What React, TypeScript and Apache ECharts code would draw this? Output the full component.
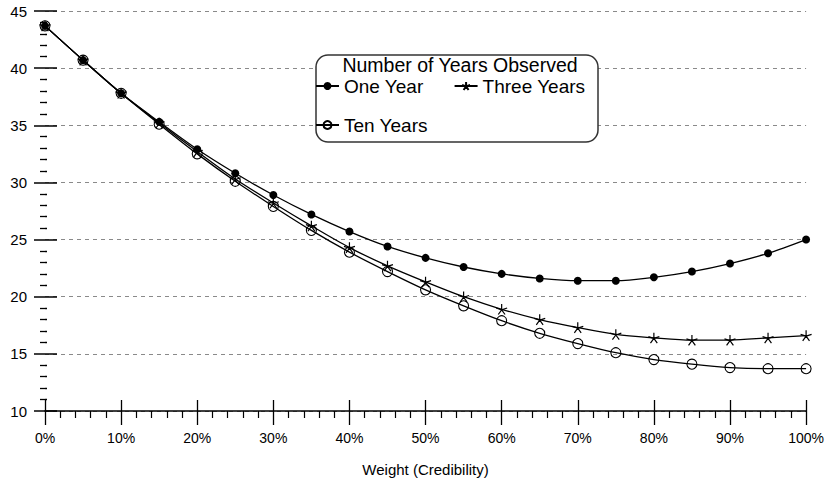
import React, { useEffect, useRef } from "react";
import * as echarts from "echarts";

const xValues = [0, 5, 10, 15, 20, 25, 30, 35, 40, 45, 50, 55, 60, 65, 70, 75, 80, 85, 90, 95, 100];
const oneYear = [43.7, 40.7, 37.8, 35.3, 32.9, 30.8, 28.9, 27.2, 25.7, 24.4, 23.4, 22.6, 22.0, 21.6, 21.4, 21.4, 21.7, 22.2, 22.9, 23.8, 25.0];
const threeYears = [43.7, 40.7, 37.8, 35.2, 32.7, 30.3, 28.2, 26.2, 24.3, 22.7, 21.3, 20.0, 18.9, 18.0, 17.3, 16.7, 16.4, 16.2, 16.2, 16.4, 16.6];
const tenYears = [43.7, 40.7, 37.8, 35.1, 32.5, 30.1, 27.9, 25.8, 23.9, 22.2, 20.6, 19.2, 17.9, 16.8, 15.9, 15.1, 14.5, 14.1, 13.8, 13.7, 13.7];
const seriesNames = ["One Year", "Three Years", "Ten Years"];
const legendTitle = "Number of Years Observed";
const xTitle = "Weight (Credibility)";

const FONT = "'Liberation Sans', Arial, sans-serif";
const STAR = "path://M0 0 L0 -10 M0 0 L9.51 -3.09 M0 0 L5.88 8.09 M0 0 L-5.88 8.09 M0 0 L-9.51 -3.09";

export default function App() {
  const ref = useRef<HTMLDivElement>(null);
  useEffect(() => {
    if (!ref.current) return;
    const chart = echarts.init(ref.current, null, { renderer: "svg" });
    const pair = (arr: number[]) => xValues.map((x, i) => [x, arr[i]]);
    const lineStyle = { color: "#000", width: 1.3 };
    const legendCommon = {
      left: 315,
      itemWidth: 23,
      itemHeight: 10,
      itemGap: 30,
      padding: 0,
      selectedMode: false,
      z: 5,
      textStyle: { fontSize: 19, fontFamily: FONT, color: "#000", lineHeight: 20, padding: [0, 0, 0, 0] },
    };
    const yCommon = {
      type: "value",
      min: 10,
      max: 45,
      interval: 5,
      position: "left",
    };
    const xCommon = {
      type: "value",
      min: 0,
      max: 100,
      interval: 10,
      position: "bottom",
    };
    chart.setOption({
      animation: false,
      backgroundColor: "#fff",
      grid: { left: 45, right: 17, top: 11, bottom: 76, containLabel: false },
      xAxis: [
        {
          ...xCommon,
          name: xTitle,
          nameLocation: "middle",
          nameGap: 51,
          nameTextStyle: { fontSize: 15, fontFamily: FONT, color: "#000" },
          axisLine: { show: true, onZero: false, lineStyle: { color: "#000", width: 1.5 } },
          axisTick: { show: true, inside: false, length: 14, lineStyle: { color: "#000", width: 1.3 } },
          minorTick: { show: true, splitNumber: 5, length: 7, lineStyle: { color: "#000", width: 1.2 } },
          axisLabel: { formatter: "{value}%", fontSize: 14, fontFamily: FONT, color: "#000", margin: 20 },
          splitLine: { show: false },
        },
        {
          ...xCommon,
          axisLine: { show: false, onZero: false },
          axisTick: { show: true, inside: true, length: 11, lineStyle: { color: "#000", width: 1.3 } },
          axisLabel: { show: false },
          splitLine: { show: false },
        },
      ],
      yAxis: [
        {
          ...yCommon,
          axisLine: { show: false, onZero: false },
          axisTick: { show: true, inside: false, length: 11, lineStyle: { color: "#000", width: 1.5 } },
          minorTick: { show: true, splitNumber: 5, length: 5, lineStyle: { color: "#000", width: 1.3 } },
          axisLabel: { fontSize: 15, fontFamily: FONT, color: "#000", margin: 18 },
          splitLine: { show: true, lineStyle: { color: "#8a8a8a", width: 1, type: [4, 4] } },
        },
        {
          ...yCommon,
          axisLine: { show: false, onZero: false },
          axisTick: { show: true, inside: true, length: 12, lineStyle: { color: "#000", width: 1.5 } },
          minorTick: { show: true, splitNumber: 5, length: 2, lineStyle: { color: "#000", width: 1.3 } },
          axisLabel: { show: false },
          splitLine: { show: false },
        },
      ],
      legend: [
        { ...legendCommon, top: 76, data: [seriesNames[0], seriesNames[1]] },
        { ...legendCommon, top: 115, data: [seriesNames[2]] },
      ],
      graphic: [
        {
          type: "rect",
          z: 3,
          shape: { x: 316, y: 55, width: 282, height: 87, r: 12 },
          style: { fill: "#fff", stroke: "#333", lineWidth: 1.5 },
        },
        {
          type: "text",
          z: 4,
          x: 460,
          y: 65,
          style: {
            text: legendTitle,
            fontSize: 19.5,
            fontFamily: FONT,
            fill: "#000",
            textAlign: "center",
            textVerticalAlign: "middle",
          },
        },
      ],
      series: [
        {
          name: seriesNames[0],
          type: "line",
          data: pair(oneYear),
          smooth: 0.3,
          symbol: "circle",
          symbolSize: 8,
          lineStyle,
          itemStyle: { color: "#000" },
          z: 5,
        },
        {
          name: seriesNames[1],
          type: "line",
          data: pair(threeYears),
          smooth: 0.3,
          symbol: STAR,
          symbolSize: 11,
          symbolKeepAspect: true,
          lineStyle,
          itemStyle: { color: "#000", borderColor: "#000", borderWidth: 1.2 },
          z: 5,
        },
        {
          name: seriesNames[2],
          type: "line",
          data: pair(tenYears),
          smooth: 0.3,
          symbol: "circle",
          symbolSize: 10,
          lineStyle,
          itemStyle: { color: "rgba(0,0,0,0)", borderColor: "#000", borderWidth: 1.1 },
          z: 5,
        },
      ],
    });
    return () => chart.dispose();
  }, []);
  return <div ref={ref} style={{ position: "fixed", left: 0, top: 0, width: 827, height: 487 }} />;
}
